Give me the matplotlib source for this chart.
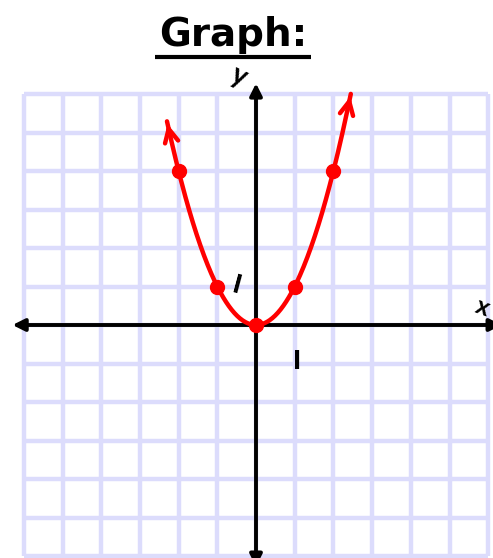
import numpy as np
import matplotlib
matplotlib.use("Agg")
import matplotlib.pyplot as plt

# data
xs = [-2, -1, 0, 1, 2]
ys = [4, 1, 0, 1, 4]
curve_x_range = [-2.3, 2.45]
grid_ticks = list(range(-6, 7))
title = "Graph:"

fig = plt.figure(figsize=(4.93, 5.58), dpi=100)
ax = fig.add_axes([0, 0, 1, 1])
ax.set_xlim(-256 / 38.7, (493 - 256) / 38.7)
ax.set_ylim((325 - 558) / 38.5, 325 / 38.5)
ax.axis("off")

gc = "#dcdcfc"
for g in grid_ticks:
    ax.plot([g, g], [-6, 6], color=gc, lw=3.2, solid_capstyle="butt", zorder=1)
    ax.plot([-6, 6], [g, g], color=gc, lw=3.2, solid_capstyle="butt", zorder=1)

# axes with arrows
xl = ax.get_xlim(); yl = ax.get_ylim()
ax.annotate("", xy=(xl[0] + 0.25, 0), xytext=(xl[1] + 0.3, 0),
            arrowprops=dict(arrowstyle="<|-|>", color="black", lw=2.8, mutation_scale=18), zorder=3)
ax.annotate("", xy=(0, 6.35), xytext=(0, yl[0] - 0.3),
            arrowprops=dict(arrowstyle="<|-|>", color="black", lw=2.8, mutation_scale=18), zorder=3)

# parabola
cx = np.linspace(curve_x_range[0], curve_x_range[1], 200)
ax.plot(cx, cx ** 2, color="#ff0000", lw=3.2, zorder=4, solid_capstyle="round")
ax.annotate("", xy=(cx[0], cx[0] ** 2), xytext=(cx[3], cx[3] ** 2),
            arrowprops=dict(arrowstyle="->", color="#ff0000", lw=3.2, mutation_scale=24), zorder=4)
ax.annotate("", xy=(cx[-1], cx[-1] ** 2), xytext=(cx[-4], cx[-4] ** 2),
            arrowprops=dict(arrowstyle="->", color="#ff0000", lw=3.2, mutation_scale=24), zorder=4)
ax.plot(xs, ys, "o", color="#ff0000", ms=10, zorder=5)

# labels
ax.text(-0.45, 6.45, "y", fontsize=20, fontweight="bold", ha="center", va="center",
        rotation=-25, family="Lato", zorder=6)
ax.text(5.85, 0.45, "x", fontsize=18, fontweight="bold", ha="center", va="center",
        rotation=-20, family="Lato", zorder=6)
ax.text(-0.5, 1.0, "l", fontsize=17, fontweight="bold", ha="center", va="center",
        rotation=-15, family="DejaVu Sans", zorder=6)
ax.text(1.05, -0.95, "l", fontsize=17, fontweight="bold", ha="center", va="center",
        family="DejaVu Sans", zorder=6)

# title
ax.text(-0.6, 7.52, title, fontsize=28, fontweight="bold", ha="center", va="center",
        family="DejaVu Sans", zorder=6)
ax.plot([-2.61, 1.42], [6.95, 6.95], color="black", lw=3, solid_capstyle="butt", zorder=6)

fig.savefig("out.png", dpi=100)
